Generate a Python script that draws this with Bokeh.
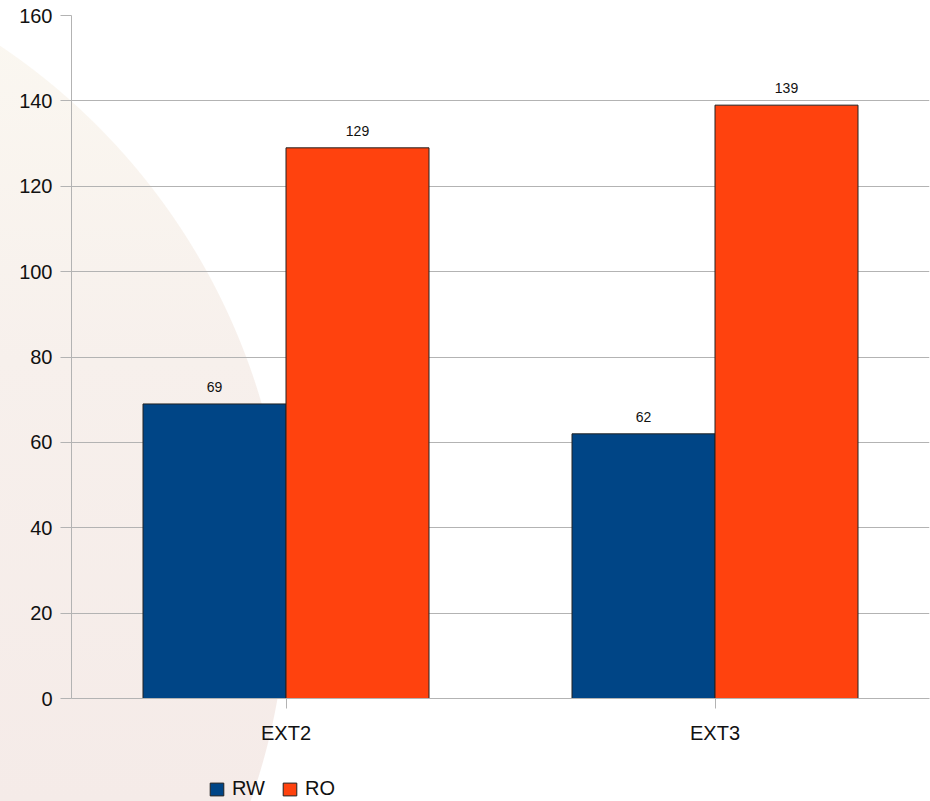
from bokeh.plotting import figure
from bokeh.layouts import column
from bokeh.models import (ColumnDataSource, FactorRange, Range1d, Legend, LegendItem,
                          InlineStyleSheet, FixedTicker)
from bokeh.transform import dodge
from bokeh.core.properties import value
from bokeh.embed import file_html
from bokeh.resources import INLINE

# Data
categories = ["EXT2", "EXT3"]
series_names = ["RW", "RO"]
rw_values = [69, 62]
ro_values = [129, 139]
y_ticks = [0, 20, 40, 60, 80, 100, 120, 140, 160]

FONT = "Liberation Sans"
COLORS = ["#004586", "#ff420e"]
GRID = "#b3b3b3"
OFFSETS = [-1 / 6, 1 / 6]

src = ColumnDataSource(dict(
    cat=categories,
    RW=rw_values,
    RO=ro_values,
    RW_txt=[str(v) for v in rw_values],
    RO_txt=[str(v) for v in ro_values],
))

# ---- main chart -------------------------------------------------------------
p = figure(
    x_range=FactorRange(*categories, range_padding=0),
    y_range=Range1d(0, 160),
    width=930, height=760,
    output_backend="svg", toolbar_location=None,
    min_border_left=71, min_border_right=1, min_border_top=15, min_border_bottom=62,
)
p.background_fill_alpha = 0
p.border_fill_alpha = 0
p.outline_line_color = None

for name, color, off in zip(series_names, COLORS, OFFSETS):
    p.vbar(x=dodge("cat", off, range=p.x_range), top=name, width=1 / 3, source=src,
           fill_color=color, line_color="#222222", line_width=1)
    p.text(x=dodge("cat", off, range=p.x_range), y=name, text=name + "_txt", source=src,
           text_font=value(FONT), text_font_size="14px", text_color="#111111",
           text_align="center", text_baseline="alphabetic", y_offset=-17)

p.yaxis.ticker = FixedTicker(ticks=y_ticks)
for ax in (p.xaxis, p.yaxis):
    ax.axis_line_color = GRID
    ax.major_tick_line_color = GRID
    ax.minor_tick_line_color = None
    ax.major_tick_in = 0
    ax.major_label_text_font = FONT
    ax.major_label_text_font_size = "20px"
    ax.major_label_text_color = "#111111"
p.yaxis.major_tick_out = 11
p.yaxis.major_label_standoff = 8
p.xaxis.major_tick_out = 10
p.xaxis.major_label_standoff = 13

p.xgrid.grid_line_color = None
p.ygrid.grid_line_color = GRID
p.ygrid.grid_line_width = 1
p.ygrid.ticker = FixedTicker(ticks=y_ticks)

# ---- legend strip under the chart ---------------------------------------------
# swatch renderers share the bars' styling; the strip's y window lies far above
# the data, so only their legend entries show
lg = figure(
    x_range=p.x_range, y_range=Range1d(1000, 1001),
    width=930, height=41,
    output_backend="svg", toolbar_location=None,
    x_axis_location=None, y_axis_location=None, min_border=0,
)
lg.background_fill_alpha = 0
lg.border_fill_alpha = 0
lg.outline_line_color = None
lg.grid.visible = False

swatches = []
for name, color, off in zip(series_names, COLORS, OFFSETS):
    swatches.append(lg.vbar(x=dodge("cat", off, range=p.x_range), top=name, width=1 / 3,
                            source=src, fill_color=color, line_color="#222222", line_width=1))

legend = Legend(
    items=[LegendItem(label=n, renderers=[r]) for n, r in zip(series_names, swatches)],
    orientation="horizontal", location=(137, 1),
    glyph_width=17, glyph_height=16, label_standoff=7, spacing=16,
    padding=0, margin=0, border_line_color=None, background_fill_alpha=0,
    label_text_font=FONT, label_text_font_size="20px", label_text_color="#111111",
)
lg.add_layout(legend, "center")

page = column(p, lg, spacing=0)
# soft disc in the page background, showing through the transparent canvases
page.stylesheets = [InlineStyleSheet(css="""
:host {
  background:
    radial-gradient(circle 650px at -362px 585px, rgba(255,255,255,0) 649px, #ffffff 650px),
    linear-gradient(to bottom, #fbf8f1 0%, #f7f0ec 45%, #f5ebe8 100%);
}
""")]

open("out.html", "w").write(file_html(page, INLINE))
